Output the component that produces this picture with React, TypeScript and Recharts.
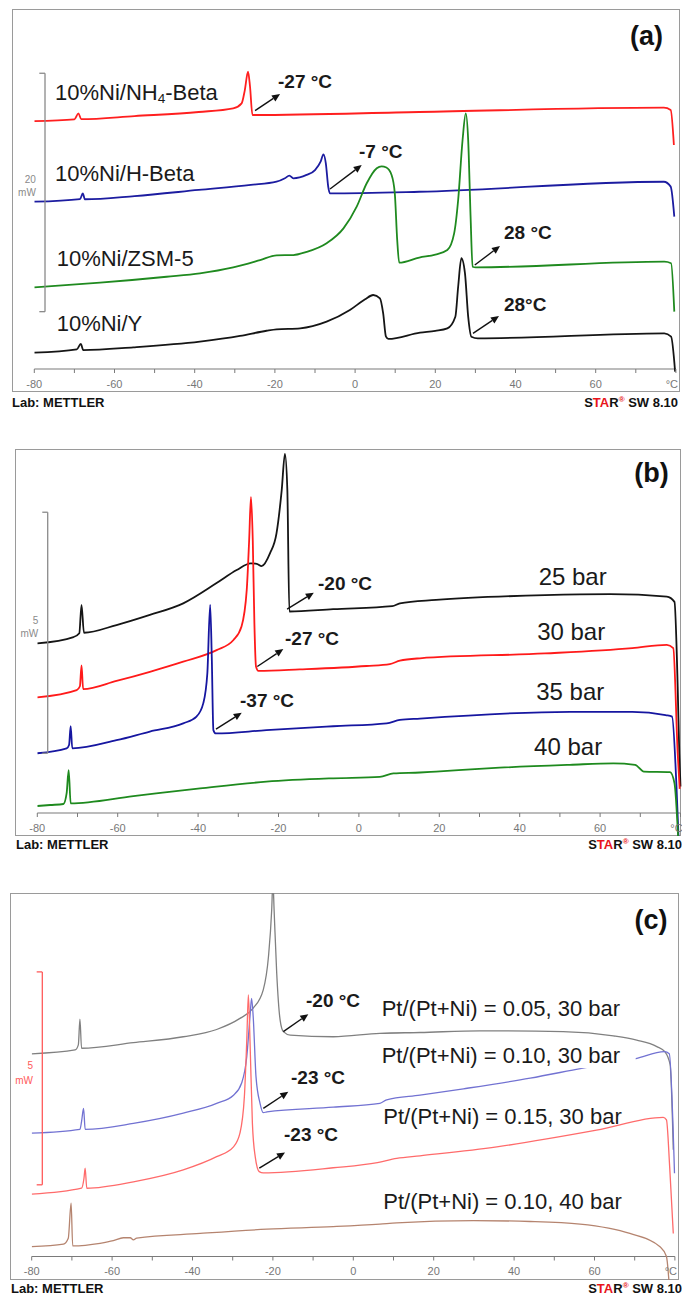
import React from "react";
import { LineChart, Line, XAxis, YAxis, ReferenceLine, ReferenceDot } from "recharts";

const FONT = '"Liberation Sans", Arial, Helvetica, sans-serif';

// ---------- shared axis ----------
const TEMP_TICKS = [-80, -70, -60, -50, -40, -30, -20, -10, 0, 10, 20, 30, 40, 50, 60, 70, 80];
const TEMP_UNIT = "°C";

// ---------- panel (a): heat flow (mW, offset) vs temperature (°C) ----------
const A_NAMES = ["10%Ni/NH4-Beta", "10%Ni/H-Beta", "10%Ni/ZSM-5", "10%Ni/Y"];
const A_NH4BETA_T = [-80, -70, -69, -68.3, -55, -39, -30.4, -28.3, -27.5, -26.7, -26.2, -25.6, 16, 77, 78.7, 79.5];
const A_NH4BETA_V = [20.8, 20.95, 21.45, 20.96, 21.22, 21.56, 21.87, 22.29, 23.4, 24.94, 23.68, 21.31, 21.56, 21.92, 21.73, 18.79];
const A_HBETA_T = [-80, -68.6, -67.9, -67.4, -55, -39, -26, -19.6, -17.5, -16.4, -15.4, -12.1, -10, -8.6, -7.9, -7.3, -6.7, -6.3, 16, 77, 78.7, 79.6];
const A_HBETA_V = [14.04, 14.26, 14.74, 14.24, 14.51, 15.02, 15.44, 15.71, 16.0, 16.22, 16.0, 16.28, 16.69, 17.39, 18.01, 17.26, 15.29, 14.74, 14.87, 15.71, 15.3, 12.78];
const A_ZSM5_T = [-80, -63.6, -47, -38.7, -30.4, -23.7, -19.6, -15.4, -12.1, -7.1, -2.9, 0.4, 2.9, 5.4, 6.6, 7.8, 9.1, 9.9, 10.5, 11.0, 16, 20, 23, 24.7, 25.7, 26.8, 27.6, 28.2, 28.8, 29.3, 30.1, 77.1, 78.8, 79.6];
const A_ZSM5_V = [6.85, 7.24, 7.74, 8.03, 8.53, 9.14, 9.54, 9.56, 9.82, 10.55, 11.8, 13.62, 15.58, 16.84, 17.0, 16.9, 16.28, 14.74, 10.82, 8.92, 9.35, 9.6, 9.98, 11.38, 14.18, 19.21, 21.45, 19.2, 12.78, 8.58, 8.53, 9.0, 8.87, 4.81];
const A_Y_T = [-80, -69.4, -68.4, -67.8, -55.3, -38.7, -28.7, -22.1, -19.6, -13.7, -7.1, -1.3, 2.5, 4.5, 6.2, 7.0, 7.7, 8.3, 16.2, 20, 23.0, 25.0, 25.7, 26.5, 27.4, 28.2, 29.0, 30.6, 77.1, 78.8, 79.8];
const A_Y_V = [1.37, 1.65, 2.10, 1.59, 1.82, 2.29, 2.77, 3.21, 3.33, 3.41, 3.97, 4.95, 5.85, 6.21, 5.93, 4.67, 2.71, 2.52, 3.05, 3.2, 3.41, 4.39, 6.9, 9.29, 8.03, 4.39, 2.71, 2.57, 2.99, 2.71, -0.22];
const A_PEAK_TEXT = ["-27 °C", "-7 °C", "28 °C", "28°C"];
const A_SCALE = ["20", "mW"];

// ---------- panel (b) ----------
const B_NAMES = ["25 bar", "30 bar", "35 bar", "40 bar"];
const B_25_T = [-80, -71, -69.55, -69.0, -68.4, -60.3, -52, -43.7, -35.4, -30.4, -26.9, -25.4, -24.2, -22.1, -20.5, -19.2, -18.4, -17.8, -17.3, -6.4, 8.3, 10.2, 19.2, 46.3, 62.5, 76.6, 78.5, 79.3, 79.7, 80.0];
const B_25_V = [3.52, 3.65, 3.73, 4.32, 3.74, 3.90, 4.11, 4.35, 4.77, 5.04, 5.18, 5.17, 5.12, 5.39, 5.80, 6.70, 7.45, 6.70, 4.18, 4.23, 4.29, 4.35, 4.42, 4.52, 4.54, 4.49, 4.38, 2.62, 1.24, 0.55];
const B_30_T = [-80, -70.2, -69.4, -69.0, -68.6, -60.3, -52, -43.7, -35.4, -31.2, -29.2, -27.9, -27.3, -26.85, -26.4, -26.0, -25.6, -25.0, -14.7, 1.9, 7.7, 10.2, 15.2, 46.3, 68, 76.6, 78.2, 79.3, 79.8];
const B_30_V = [2.40, 2.55, 2.63, 3.06, 2.57, 2.74, 2.93, 3.14, 3.38, 3.59, 3.87, 4.63, 5.66, 6.56, 5.66, 3.94, 3.04, 2.95, 2.98, 3.05, 3.09, 3.16, 3.21, 3.31, 3.42, 3.49, 3.42, 1.24, 0.5];
const B_35_T = [-80, -72.7, -72.1, -71.7, -71.3, -60.3, -52, -43.7, -40.4, -38.7, -37.7, -37.0, -36.6, -36.2, -35.6, -23, -6.4, 6.9, 10.2, 15.2, 52.5, 68, 76.3, 77.9, 79.0, 79.5];
const B_35_V = [1.24, 1.34, 1.41, 1.80, 1.34, 1.51, 1.69, 1.86, 2.00, 2.28, 2.90, 4.32, 3.24, 1.72, 1.65, 1.72, 1.80, 1.86, 1.93, 1.96, 2.10, 2.10, 2.03, 2.00, 0.55, -0.48];
const B_40_T = [-80, -76.8, -73.5, -72.7, -72.2, -71.7, -56.1, -39.5, -23, -6.4, 5.2, 8.6, 15.2, 19.2, 35, 52.5, 63.3, 68.7, 70.9, 77.4, 78.5, 79.4];
const B_40_V = [0.145, 0.166, 0.187, 0.41, 0.89, 0.20, 0.35, 0.51, 0.65, 0.72, 0.75, 0.82, 0.84, 0.86, 0.94, 1.0, 1.03, 1.0, 0.86, 0.85, 0.62, -0.48];
const B_PEAK_TEXT = ["-20 °C", "-27 °C", "-37 °C"];
const B_SCALE = ["5", "mW"];

// ---------- panel (c) ----------
const C_NAMES = ["Pt/(Pt+Ni) = 0.05, 30 bar", "Pt/(Pt+Ni) = 0.10, 30 bar", "Pt/(Pt+Ni) = 0.15, 30 bar", "Pt/(Pt+Ni) = 0.10, 40 bar"];
const C_005_30_T = [-80, -69.2, -68.4, -68.0, -67.6, -54.7, -42.3, -34.0, -28.2, -24.9, -22.4, -21.1, -20.3, -20.0, -19.7, -19.05, -18.2, -17.4, -15.7, -5.0, 6.6, 16.6, 31.5, 52.2, 64.7, 70.5, 75.5, 77.5, 78.8, 79.6];
const C_005_30_V = [4.75, 4.84, 4.96, 5.56, 4.88, 5.01, 5.15, 5.32, 5.58, 5.82, 6.25, 7.03, 8.12, 8.8, 8.12, 6.64, 5.54, 5.27, 5.19, 5.15, 5.23, 5.25, 5.29, 5.27, 5.17, 5.07, 4.92, 4.80, 4.5, 2.5];
const C_010_30_T = [-80, -68.0, -67.6, -67.1, -66.7, -54.7, -42.3, -34.0, -29.8, -27.8, -26.5, -25.7, -25.3, -24.9, -24.2, -23.2, -22.4, -21.5, -5.0, 6.6, 8.3, 16.6, 27.4, 44.0, 56.8, 70.3, 77.4, 78.6, 79.9];
const C_010_30_V = [2.89, 2.98, 3.16, 3.47, 2.98, 3.12, 3.36, 3.59, 3.78, 4.06, 4.68, 5.62, 6.05, 5.62, 4.21, 3.59, 3.37, 3.39, 3.50, 3.59, 3.67, 3.78, 3.93, 4.18, 4.41, 4.64, 4.80, 4.75, 1.95];
const C_015_30_T = [-80, -67.6, -67.0, -66.7, -66.3, -54.7, -42.3, -34.0, -29.8, -28.2, -27.1, -26.5, -26.1, -25.7, -25.1, -24.4, -23.4, -22.4, -5.0, 6.0, 10.8, 16.6, 35.7, 60.5, 77.1, 77.9, 78.7, 79.6];
const C_015_30_V = [1.46, 1.60, 1.83, 2.07, 1.60, 1.75, 2.03, 2.34, 2.57, 2.89, 3.74, 5.07, 6.13, 5.07, 3.12, 2.34, 1.99, 1.96, 2.08, 2.20, 2.30, 2.36, 2.57, 2.96, 3.26, 3.2, 2.1, 0.54];
const C_010_40_T = [-80, -72.1, -70.9, -70.2, -69.8, -63.0, -59.7, -57.2, -55.5, -54.7, -53.9, -38.1, -21.5, -5.0, 6.6, 10.8, 29.9, 44.0, 56.4, 68.8, 76.3, 77.9, 78.5];
const C_010_40_V = [0.23, 0.29, 0.43, 1.25, 0.25, 0.31, 0.37, 0.44, 0.44, 0.39, 0.43, 0.54, 0.64, 0.70, 0.76, 0.79, 0.84, 0.82, 0.76, 0.54, 0.23, 0.0, -0.55];
const C_PEAK_TEXT = ["-20 °C", "-23 °C", "-23 °C"];
const C_SCALE = ["5", "mW"];

// ---------- types ----------
type Series = { t: number[]; v: number[]; color: string; width: number };
type Note = { t: number; v: number; text: string; size: number; bold?: boolean; anchor?: string; fill?: string; box?: boolean };
type Arrow = { t1: number; v1: number; t2: number; v2: number };
type PanelCfg = {
  letter: string;
  letterAt: [number, number];
  frameLeft: number; frameTop: number; frameRight: number; frameBottom: number;
  axisY: number; left: number; ppd: number; k: number;
  series: Series[];
  notes: Note[];
  arrows: Arrow[];
  scale: { t: number; tTick: number; v1: number; v2: number; color: string; labels: string[]; labelT: number; labelV: [number, number] };
  footerY: number; footerLeft: number; footerRight: number;
};

const panelA: PanelCfg = {
  letter: "(a)", letterAt: [72.67, 27.94],
  frameLeft: 12, frameTop: 9, frameRight: 680, frameBottom: 392,
  axisY: 369, left: 34.3, ppd: 4.01, k: 11.92,
  series: [
    { t: A_NH4BETA_T, v: A_NH4BETA_V, color: "#ff1f1f", width: 1.8 },
    { t: A_HBETA_T, v: A_HBETA_V, color: "#1c1ca0", width: 1.8 },
    { t: A_ZSM5_T, v: A_ZSM5_V, color: "#1f8a1f", width: 1.8 },
    { t: A_Y_T, v: A_Y_V, color: "#151515", width: 1.8 },
  ],
  notes: [
    { t: -74.84, v: 23.26, text: A_NAMES[0], size: 22 },
    { t: -74.84, v: 16.42, text: A_NAMES[1], size: 22 },
    { t: -74.41, v: 9.29, text: A_NAMES[2], size: 22 },
    { t: -74.41, v: 3.78, text: A_NAMES[3], size: 22 },
    { t: -19.23, v: 24.1, text: A_PEAK_TEXT[0], size: 19, bold: true },
    { t: 0.97, v: 18.23, text: A_PEAK_TEXT[1], size: 19, bold: true },
    { t: 37.13, v: 11.41, text: A_PEAK_TEXT[2], size: 19, bold: true },
    { t: 37.13, v: 5.37, text: A_PEAK_TEXT[3], size: 19, bold: true },
  ],
  arrows: [
    { t1: -24.95, v1: 21.67, t2: -18.72, v2: 23.07 },
    { t1: -6.26, v1: 15.1, t2: 1.65, v2: 17.11 },
    { t1: 29.85, v1: 8.72, t2: 36.13, v2: 10.32 },
    { t1: 29.4, v1: 2.99, t2: 35.89, v2: 4.45 },
  ],
  scale: { t: -77.33, tTick: -78.75, v1: 4.81, v2: 24.81, color: "#8a8a8a", labels: A_SCALE, labelT: -79.6, labelV: [15.93, 14.77] },
  footerY: 403, footerLeft: 12, footerRight: 4,
};

const panelB: PanelCfg = {
  letter: "(b)", letterAt: [72.79, 7.05],
  frameLeft: 14.5, frameTop: 449, frameRight: 681, frameBottom: 836,
  axisY: 813, left: 37.3, ppd: 4.02, k: 48.2,
  series: [
    { t: B_25_T, v: B_25_V, color: "#151515", width: 1.8 },
    { t: B_30_T, v: B_30_V, color: "#ff1a1a", width: 1.8 },
    { t: B_35_T, v: B_35_V, color: "#1616a0", width: 1.8 },
    { t: B_40_T, v: B_40_V, color: "#1e8a1e", width: 1.8 },
  ],
  notes: [
    { t: 44.71, v: 4.9, text: B_NAMES[0], size: 24 },
    { t: 44.34, v: 3.76, text: B_NAMES[1], size: 24 },
    { t: 44.12, v: 2.52, text: B_NAMES[2], size: 24 },
    { t: 43.58, v: 1.38, text: B_NAMES[3], size: 24 },
    { t: -10.17, v: 4.77, text: B_PEAK_TEXT[0], size: 19, bold: true },
    { t: -18.38, v: 3.61, text: B_PEAK_TEXT[1], size: 19, bold: true },
    { t: -29.58, v: 2.33, text: B_PEAK_TEXT[2], size: 19, bold: true },
  ],
  arrows: [
    { t1: -17.86, v1: 4.23, t2: -11.22, v2: 4.57 },
    { t1: -25.27, v1: 3.04, t2: -18.81, v2: 3.4 },
    { t1: -35.55, v1: 1.74, t2: -29.15, v2: 2.08 },
  ],
  scale: { t: -77.41, tTick: -78.76, v1: 1.24, v2: 6.24, color: "#8a8a8a", labels: B_SCALE, labelT: -79.75, labelV: [3.99, 3.72] },
  footerY: 845, footerLeft: 16, footerRight: 0,
};

const panelC: PanelCfg = {
  letter: "(c)", letterAt: [74.05, 7.89],
  frameLeft: 9.5, frameTop: 893, frameRight: 679, frameBottom: 1280,
  axisY: 1256.5, left: 31.7, ppd: 4.02, k: 42.67,
  series: [
    { t: C_005_30_T, v: C_005_30_V, color: "#808080", width: 1.3 },
    { t: C_010_30_T, v: C_010_30_V, color: "#7272d2", width: 1.3 },
    { t: C_015_30_T, v: C_015_30_V, color: "#ff6b6b", width: 1.3 },
    { t: C_010_40_T, v: C_010_40_V, color: "#b5846f", width: 1.3 },
  ],
  notes: [
    { t: 7.06, v: 5.82, text: C_NAMES[0], size: 22 },
    { t: 7.06, v: 4.72, text: C_NAMES[1], size: 22, box: true },
    { t: 7.46, v: 3.28, text: C_NAMES[2], size: 22 },
    { t: 7.46, v: 1.28, text: C_NAMES[3], size: 22 },
    { t: -11.77, v: 6.01, text: C_PEAK_TEXT[0], size: 19, bold: true },
    { t: -15.5, v: 4.19, text: C_PEAK_TEXT[1], size: 19, bold: true },
    { t: -17.24, v: 2.85, text: C_PEAK_TEXT[2], size: 19, bold: true },
  ],
  arrows: [
    { t1: -17.41, v1: 5.27, t2: -11.19, v2: 5.68 },
    { t1: -22.39, v1: 3.47, t2: -16.17, v2: 3.86 },
    { t1: -23.38, v1: 2.07, t2: -16.99, v2: 2.44 },
  ],
  scale: { t: -77.36, tTick: -78.76, v1: 1.68, v2: 6.67, color: "#ff5a5a", labels: C_SCALE, labelT: -79.68, labelV: [4.48, 4.13] },
  footerY: 1289, footerLeft: 11, footerRight: 0,
};

// ---------- drawing helpers ----------
function renderName(name: string, size: number) {
  const i = name.indexOf("NH4");
  if (i < 0) return name;
  return [
    <tspan key="a">{name.slice(0, i + 2)}</tspan>,
    <tspan key="b" fontSize={size * 0.62} dy={size * 0.28}>4</tspan>,
    <tspan key="c" dy={-size * 0.28}>{name.slice(i + 3)}</tspan>,
  ];
}

const arrowShape = (p: any) => {
  const { x1, y1, x2, y2 } = p;
  const ang = Math.atan2(y2 - y1, x2 - x1);
  const L = 8, W = 3.6;
  const bx = x2 - L * Math.cos(ang), by = y2 - L * Math.sin(ang);
  const ax = bx + W * Math.sin(ang), ay = by - W * Math.cos(ang);
  const cx = bx - W * Math.sin(ang), cy = by + W * Math.cos(ang);
  return (
    <g>
      <line x1={x1} y1={y1} x2={bx} y2={by} stroke="#111" strokeWidth={1.4} />
      <polygon points={`${x2},${y2} ${ax},${ay} ${cx},${cy}`} fill="#111" />
    </g>
  );
};

const makeTick = (axisPx: number) => (p: any) => {
  const val = p.payload.value as number;
  const x = p.x as number;
  const label = val % 20 === 0 ? (val === 80 ? TEMP_UNIT : String(val)) : "";
  return (
    <g>
      <line x1={x} x2={x} y1={axisPx} y2={axisPx + 4} stroke="#7a7a7a" strokeWidth={1} />
      {label ? (
        <text x={val === 80 ? x - 4 : x} y={axisPx + 14.5} textAnchor="middle" dominantBaseline="central" fontSize={11} fill="#777" fontFamily={FONT}>
          {label}
        </text>
      ) : null}
    </g>
  );
};

function Footer({ top, left, right }: { top: number; left: number; right: number }) {
  const st: React.CSSProperties = { position: "absolute", top: top - 7, fontSize: 13, fontWeight: "bold", lineHeight: "14px", color: "#111", fontFamily: FONT, whiteSpace: "nowrap" };
  return (
    <>
      <div style={{ ...st, left }}>Lab: METTLER</div>
      <div style={{ ...st, right }}>
        S<span style={{ color: "#e8141b" }}>TA</span>R
        <span style={{ color: "#e8141b", fontSize: 8, verticalAlign: "super", lineHeight: 0 }}>®</span> SW 8.10
      </div>
    </>
  );
}

function Panel({ cfg }: { cfg: PanelCfg }) {
  const plotH = cfg.frameBottom - cfg.frameTop;
  const axisPx = cfg.axisY - cfg.frameTop;
  const vMax = (cfg.axisY - cfg.frameTop) / cfg.k;
  const vMin = (cfg.axisY - cfg.frameBottom) / cfg.k;
  const xMax = (682 - cfg.left) / cfg.ppd - 80;
  const s = cfg.scale;
  return (
    <>
      <div
        style={{
          position: "absolute", left: cfg.frameLeft, top: cfg.frameTop,
          width: cfg.frameRight - cfg.frameLeft, height: plotH,
          border: "1.5px solid #9a9a9a", boxSizing: "border-box",
        }}
      />
      <div style={{ position: "absolute", left: 0, top: cfg.frameTop }}>
        <LineChart width={682} height={plotH + 1} margin={{ top: 0, right: 0, bottom: 0, left: cfg.left }}>
          <XAxis
            type="number" dataKey="t" domain={[-80, xMax]} allowDataOverflow ticks={TEMP_TICKS}
            interval={0} height={1} axisLine={false} tickLine={false} tick={makeTick(axisPx)}
          />
          <YAxis hide type="number" domain={[vMin, vMax]} allowDataOverflow />
          <ReferenceLine segment={[{ x: -80, y: 0 }, { x: 80, y: 0 }]} stroke="#7a7a7a" strokeWidth={1.2} ifOverflow="visible" />
          {cfg.series.map((se, i) => (
            <Line
              key={i}
              data={se.t.map((t, j) => ({ t, v: se.v[j] }))}
              dataKey="v" type="monotoneX" stroke={se.color} strokeWidth={se.width}
              dot={false} activeDot={false} isAnimationActive={false}
            />
          ))}
          <ReferenceLine segment={[{ x: s.t, y: s.v1 }, { x: s.t, y: s.v2 }]} stroke={s.color} strokeWidth={1.3} ifOverflow="visible" />
          <ReferenceLine segment={[{ x: s.tTick, y: s.v2 }, { x: s.t, y: s.v2 }]} stroke={s.color} strokeWidth={1.3} ifOverflow="visible" />
          <ReferenceLine segment={[{ x: s.tTick, y: s.v1 }, { x: s.t, y: s.v1 }]} stroke={s.color} strokeWidth={1.3} ifOverflow="visible" />
          {s.labels.map((lab, i) => (
            <ReferenceDot
              key={"s" + i} x={s.labelT} y={s.labelV[i]} r={1} ifOverflow="visible"
              shape={(p: any) => (
                <text x={p.cx} y={p.cy} textAnchor="end" dominantBaseline="central" fontSize={10} fill={s.color} fontFamily={FONT}>{lab}</text>
              )}
            />
          ))}
          {cfg.arrows.map((a, i) => (
            <ReferenceLine key={"a" + i} segment={[{ x: a.t1, y: a.v1 }, { x: a.t2, y: a.v2 }]} ifOverflow="visible" shape={arrowShape} />
          ))}
          {cfg.notes.map((n, i) => (
            <ReferenceDot
              key={"n" + i} x={n.t} y={n.v} r={1} ifOverflow="visible"
              shape={(p: any) => (
                <g>
                  {n.box ? <rect x={p.cx - 3} y={p.cy - 14} width={257} height={27} fill="#fff" /> : null}
                  <text
                    x={p.cx} y={p.cy} textAnchor={n.anchor || "start"} dominantBaseline="central"
                    fontSize={n.size} fontWeight={n.bold ? "bold" : "normal"} fill={n.fill || "#1a1a1a"} fontFamily={FONT}
                  >
                    {renderName(n.text, n.size)}
                  </text>
                </g>
              )}
            />
          ))}
          <ReferenceDot
            x={cfg.letterAt[0]} y={cfg.letterAt[1]} r={1} ifOverflow="visible"
            shape={(p: any) => (
              <text x={p.cx} y={p.cy} textAnchor="middle" dominantBaseline="central" fontSize={27} fontWeight="bold" fill="#111" fontFamily={FONT}>
                {cfg.letter}
              </text>
            )}
          />
        </LineChart>
      </div>
      <Footer top={cfg.footerY} left={cfg.footerLeft} right={cfg.footerRight} />
    </>
  );
}

export default function App() {
  return (
    <div
      style={{
        position: "absolute", left: 0, top: 0, width: 682, height: 1297,
        overflow: "hidden", background: "#fff", fontFamily: FONT,
      }}
    >
      <Panel cfg={panelA} />
      <Panel cfg={panelB} />
      <Panel cfg={panelC} />
    </div>
  );
}
